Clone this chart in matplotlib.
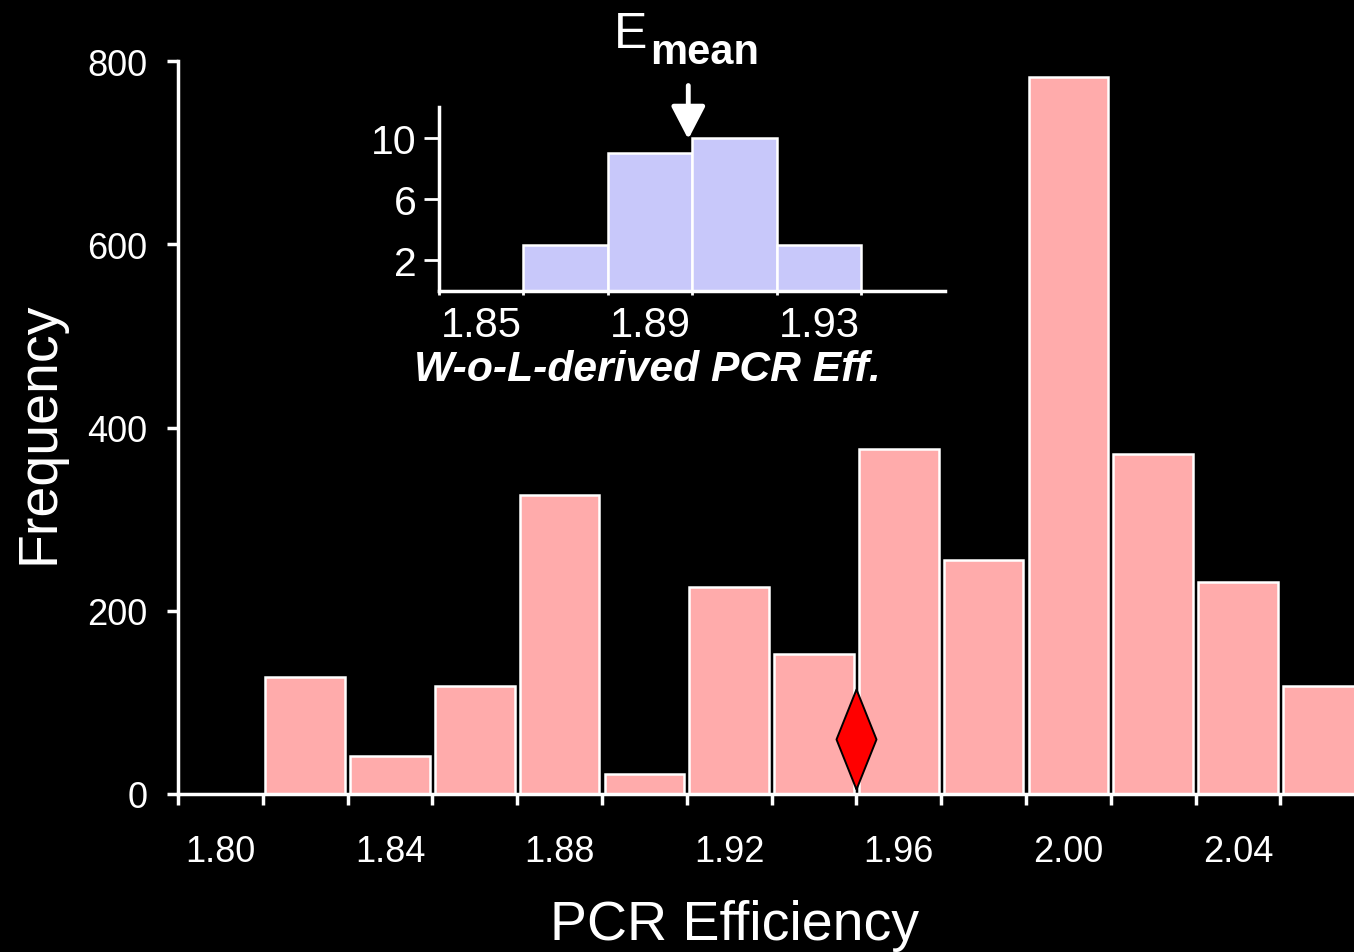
import matplotlib
matplotlib.use("Agg")
import matplotlib.pyplot as plt
from matplotlib.ticker import FixedLocator, NullFormatter

plt.rcParams['font.family'] = ['Liberation Sans', 'DejaVu Sans']

# ---- data ----
main_centers = [1.80, 1.82, 1.84, 1.86, 1.88, 1.90, 1.92, 1.94, 1.96, 1.98, 2.00, 2.02, 2.04, 2.06]
main_counts = [0, 128, 41, 118, 326, 22, 226, 153, 377, 255, 783, 371, 231, 118]
main_edges = [1.79, 1.81, 1.83, 1.85, 1.87, 1.89, 1.91, 1.93, 1.95, 1.97, 1.99, 2.01, 2.03, 2.05, 2.07]
main_xticks = [1.80, 1.84, 1.88, 1.92, 1.96, 2.00, 2.04]
main_xlabels = ["1.80", "1.84", "1.88", "1.92", "1.96", "2.00", "2.04"]
main_yticks = [0, 200, 400, 600, 800]
mean_eff = 1.95
mean_marker_y = 60

inset_centers = [1.85, 1.87, 1.89, 1.91, 1.93, 1.95]
inset_counts = [0, 3, 9, 10, 3, 0]
inset_edges = [1.84, 1.86, 1.88, 1.90, 1.92, 1.94, 1.96]
inset_xticks = [1.85, 1.89, 1.93]
inset_xlabels = ["1.85", "1.89", "1.93"]
inset_yticks = [2, 6, 10]
emean_x = 1.899

W, H = 1354, 953
fig = plt.figure(figsize=(W / 100, H / 100), dpi=100, facecolor='black')

# ---- main axes ----
ax = fig.add_axes([178 / W, 1 - 795 / H, (W - 178) / W, (795 - 62) / H], facecolor='black')
ax.bar(main_centers, main_counts, width=0.0188, color='#ffabab', edgecolor='white', linewidth=1.8, zorder=2)
ax.plot([mean_eff], [mean_marker_y], marker=[(0, -1), (0.4, 0), (0, 1), (-0.4, 0), (0, -1)],
        markersize=72, markerfacecolor='#ff0000', markeredgecolor='black', markeredgewidth=1.4,
        linestyle='none', zorder=4, clip_on=False)
ax.set_xlim(1.79, 1.79 + (W - 178) / 4240)
ax.set_ylim(0, 800)
for s in ['top', 'right']:
    ax.spines[s].set_visible(False)
for s in ['left', 'bottom']:
    ax.spines[s].set_color('white')
    ax.spines[s].set_linewidth(2.5)
    ax.spines[s].set_zorder(3)
ax.set_xticks(main_xticks)
ax.set_xticklabels(main_xlabels)
ax.xaxis.set_minor_locator(FixedLocator(main_edges))
ax.xaxis.set_minor_formatter(NullFormatter())
ax.tick_params(axis='x', which='major', length=0, pad=29, labelsize=26, labelcolor='white')
ax.tick_params(axis='x', which='minor', length=8, width=2.5, color='white', direction='out')
ax.set_yticks(main_yticks)
ax.tick_params(axis='y', length=8, width=2.5, color='white', pad=14, labelsize=26, labelcolor='white')
fig.text(735 / W, 1 - 926 / H, 'PCR Efficiency', color='white', fontsize=40, ha='center', va='center')
fig.text(40 / W, 1 - 433 / H, 'Frequency', color='white', fontsize=40, ha='center', va='center', rotation=90)

# ---- inset axes ----
ix0, ix1 = 439, 945
axi = fig.add_axes([ix0 / W, 1 - 292 / H, (ix1 - ix0) / W, (292 - 108) / H], facecolor='none')
axi.bar(inset_centers, inset_counts, width=0.02, color='#c8c8fa', edgecolor='white', linewidth=1.8, zorder=2)
axi.set_xlim(1.84, 1.84 + (ix1 - ix0) / 4225)
axi.set_ylim(0, 12)
for s in ['top', 'right']:
    axi.spines[s].set_visible(False)
for s in ['left', 'bottom']:
    axi.spines[s].set_color('white')
    axi.spines[s].set_linewidth(2.5)
    axi.spines[s].set_zorder(3)
axi.set_xticks(inset_xticks)
axi.set_xticklabels(inset_xlabels)
axi.xaxis.set_minor_locator(FixedLocator(inset_edges[:-1]))
axi.xaxis.set_minor_formatter(NullFormatter())
axi.tick_params(axis='x', which='major', length=0, pad=10, labelsize=30, labelcolor='white')
axi.tick_params(axis='x', which='minor', length=3, width=2, color='white', direction='out')
axi.set_yticks(inset_yticks)
axi.tick_params(axis='y', length=11, width=2, color='white', pad=5, labelsize=29.5, labelcolor='white')
fig.text(647 / W, 1 - 370 / H, 'W-o-L-derived PCR Eff.', color='white', fontsize=30.7, fontweight='bold',
         fontstyle='italic', ha='center', va='center')
axi.annotate('', xy=(emean_x, 9.9), xytext=(emean_x, 13.4), xycoords='data', textcoords='data',
             arrowprops=dict(arrowstyle='-|>,head_width=0.52,head_length=1.0', mutation_scale=20,
                             color='white', lw=3.5, shrinkA=0, shrinkB=0), annotation_clip=False)
fig.text(647 / W, 1 - 48 / H, 'E', color='white', fontsize=36, ha='right', va='baseline')
fig.text(650 / W, 1 - 64 / H, 'mean', color='white', fontsize=30, fontweight='bold', ha='left', va='baseline')

fig.savefig('out.png', dpi=100, facecolor='black')
